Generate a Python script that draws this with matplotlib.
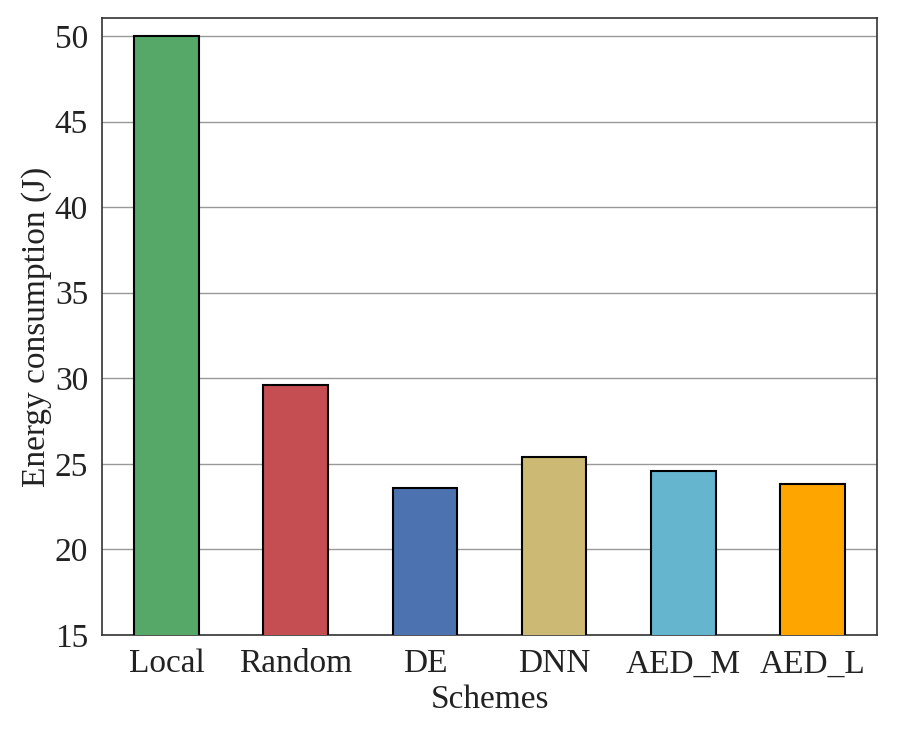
import numpy as np
import matplotlib
matplotlib.use("Agg")
import matplotlib.pyplot as plt

# values
schemes = ["Local", "Random", "DE", "DNN", "AED_M", "AED_L"]
energy = [50.0, 29.6, 23.6, 25.4, 24.6, 23.8]
colors = ["#55A868", "#C44E52", "#4C72B0", "#CCB974", "#64B5CD", "#FFA500"]

plt.rcParams["font.family"] = ["Liberation Serif", "DejaVu Serif"]
plt.rcParams["text.color"] = "#222222"
plt.rcParams["xtick.color"] = "#222222"
plt.rcParams["ytick.color"] = "#222222"
plt.rcParams["axes.labelcolor"] = "#222222"

fig = plt.figure(figsize=(8.97, 7.34), dpi=100)
ax = fig.add_axes([102/897, 1-635/734, (877-102)/897, (635-18)/734])

x = np.arange(len(schemes))
ax.bar(x, energy, width=0.5, color=colors, edgecolor="black", linewidth=1.5, zorder=3)

ax.set_xlim(-0.5, 5.5)
ax.set_ylim(15, 51.05)
ax.set_yticks(np.arange(15, 51, 5))
ax.set_xticks(x)
ax.set_xticklabels(schemes)
ax.tick_params(axis="both", labelsize=24, length=0)
ax.tick_params(axis="x", pad=10)
ax.tick_params(axis="y", pad=10)
ax.yaxis.grid(True, color="#999999", linewidth=1, zorder=0)
ax.set_axisbelow(True)
for s in ax.spines.values():
    s.set_color("#333333")
    s.set_linewidth(1.2)

ax.set_xlabel("Schemes", fontsize=24, labelpad=4)
ax.set_ylabel("Energy consumption (J)", fontsize=24, labelpad=2)

fig.savefig("out.png", dpi=100)
